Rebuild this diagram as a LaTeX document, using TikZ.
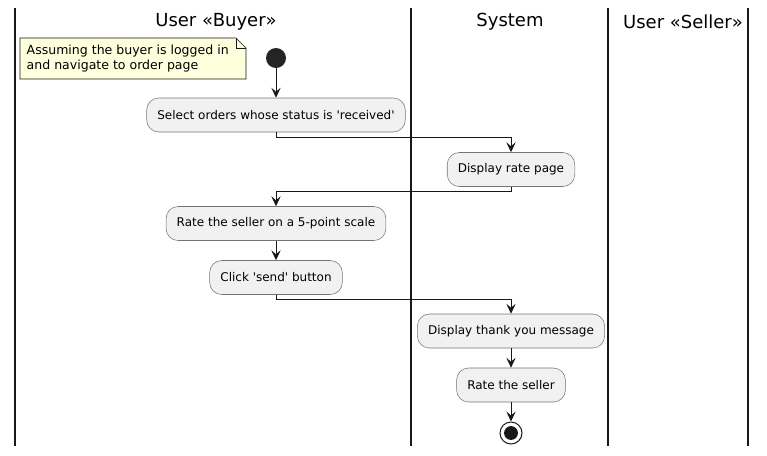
\documentclass[tikz,border=0pt]{standalone}
\usepackage{fontspec}
\newfontfamily\umlfont{DejaVu Sans}
\usetikzlibrary{arrows.meta,positioning,shapes.misc}

\definecolor{actfill}{HTML}{F1F1F1}
\definecolor{notefill}{HTML}{FEFFDD}
\definecolor{dark}{HTML}{181818}

\begin{document}
\begin{tikzpicture}[
    x=0.75pt, y=-0.75pt,
    act/.style={rectangle, rounded corners=9pt, draw=dark!60, line width=0.4pt, fill=actfill,
        minimum height=25.5pt, inner xsep=8pt, font=\umlfont\fontsize{9}{11}\selectfont},
    lane/.style={line width=1.1pt, dark},
    title/.style={font=\umlfont\fontsize{13.5}{16}\selectfont},
    arrow/.style={-{Stealth[length=7.5pt, width=7pt, inset=3pt]}, line width=0.75pt, dark}
]
    \useasboundingbox (0,0) rectangle (767,455);

    % Swimlanes
    \foreach \x in {15,411,608,748}
        \draw[lane] (\x,8) -- (\x,446);
    \node[title] (buyer) at (216,22) {User «Buyer»};
    \node[title] (system) at (510,22) {System};
    \node[title] (seller) at (683,22) {User «Seller»};

    % Note
    \draw[dark, line width=0.4pt, fill=notefill]
        (20,38) -- (236,38) -- (246,48) -- (246,79) -- (20,79) -- cycle;
    \draw[dark, line width=0.4pt] (236,38) -- (236,48) -- (246,48);
    \node[align=left, anchor=west, font=\umlfont\fontsize{9.4}{11.2}\selectfont] (note) at (22,58.5)
        {Assuming the buyer is logged in\\and navigate to order page};

    % Start
    \node[circle, fill=dark!95, minimum size=15pt, inner sep=0pt] (start) at (276,58) {};

    % Activities
    \node[act] (select) at (276,115) {Select orders whose status is 'received'};
    \node[act] (ratepage) at (511,169.5) {Display rate page};
    \node[act] (rate) at (276,223.5) {Rate the seller on a 5-point scale};
    \node[act] (send) at (276,277.5) {Click 'send' button};
    \node[act] (thanks) at (511,331) {Display thank you message};
    \node[act] (rateseller) at (511,385) {Rate the seller};

    % Stop
    \node[circle, draw=dark, line width=0.75pt, fill=white, minimum size=16.5pt, inner sep=0pt] (stop) at (511,433) {};
    \fill[dark] (stop.center) circle (5.2pt);

    % Arrows
    \draw[arrow] (start) -- (select);
    \draw[arrow] (select.south) -- ++(0,5) -| (ratepage.north);
    \draw[arrow] (ratepage.south) -- ++(0,5) -| (rate.north);
    \draw[arrow] (rate) -- (send);
    \draw[arrow] (send.south) -- ++(0,5) -| (thanks.north);
    \draw[arrow] (thanks) -- (rateseller);
    \draw[arrow] (rateseller) -- (stop);

\end{tikzpicture}
\end{document}
